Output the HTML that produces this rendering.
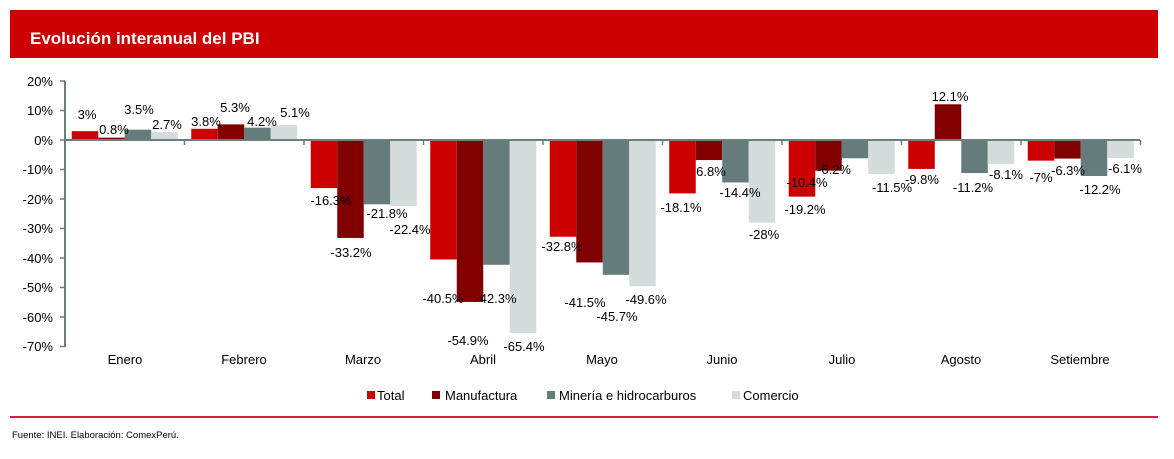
<!DOCTYPE html>
<html><head><meta charset="utf-8"><style>
body{margin:0;background:#fff;width:1174px;height:454px;overflow:hidden;font-family:"Liberation Sans",Arial,sans-serif}
svg text{font-family:"Liberation Sans",Arial,sans-serif}
</style></head><body>
<svg id="s" width="1174" height="454" xmlns="http://www.w3.org/2000/svg">
<rect x="10" y="10" width="1148" height="48" fill="#cc0000"/>
<text x="30" y="44" fill="#fff" font-size="17" font-weight="bold">Evolución interanual del PBI</text>
<g id="bars"></g>
<g stroke="#6b7f7f" stroke-width="2" fill="none">
<line x1="65" y1="81" x2="65" y2="347"/>
<line x1="65" y1="140" x2="1140" y2="140"/>
</g>
<g id="ticks" stroke="#6b7f7f" stroke-width="1.5"></g>
<g font-size="13" text-anchor="end" fill="#000">
<text x="53" y="86">20%</text><text x="53" y="115">10%</text><text x="53" y="145">0%</text>
<text x="53" y="174">-10%</text><text x="53" y="204">-20%</text><text x="53" y="233">-30%</text>
<text x="53" y="263">-40%</text><text x="53" y="292">-50%</text><text x="53" y="322">-60%</text><text x="53" y="351">-70%</text>
</g>
<g font-size="13" text-anchor="middle" fill="#000">
<text x="125" y="364">Enero</text><text x="244" y="364">Febrero</text><text x="363" y="364">Marzo</text>
<text x="483" y="364">Abril</text><text x="602" y="364">Mayo</text><text x="722" y="364">Junio</text>
<text x="842" y="364">Julio</text><text x="961" y="364">Agosto</text><text x="1080" y="364">Setiembre</text>
</g>
<g font-size="13" text-anchor="middle" fill="#000">
<text x="87" y="119">3%</text><text x="114" y="134">0.8%</text><text x="139" y="114">3.5%</text><text x="167" y="129">2.7%</text>
<text x="206" y="126">3.8%</text><text x="235" y="112">5.3%</text><text x="262" y="126">4.2%</text><text x="295" y="117">5.1%</text>
<text x="331" y="205">-16.3%</text><text x="351" y="257">-33.2%</text><text x="387" y="218">-21.8%</text><text x="410" y="234">-22.4%</text>
<text x="443" y="303">-40.5%</text><text x="468" y="345">-54.9%</text><text x="496" y="303">-42.3%</text><text x="524" y="351">-65.4%</text>
<text x="562" y="251">-32.8%</text><text x="585" y="307">-41.5%</text><text x="617" y="321">-45.7%</text><text x="646" y="304">-49.6%</text>
<text x="681" y="212">-18.1%</text><text x="711" y="176">6.8%</text><text x="740" y="197">-14.4%</text><text x="764" y="239">-28%</text>
<text x="805" y="214">-19.2%</text><text x="807" y="187">-10.4%</text><text x="834" y="174">-6.2%</text><text x="892" y="192">-11.5%</text>
<text x="922" y="184">-9.8%</text><text x="950" y="101">12.1%</text><text x="973" y="192">-11.2%</text><text x="1006" y="179">-8.1%</text>
<text x="1041" y="182">-7%</text><text x="1068" y="175">-6.3%</text><text x="1100" y="194">-12.2%</text><text x="1125" y="173">-6.1%</text>
</g>
<g font-size="13" fill="#000">
<rect x="367" y="391" width="8" height="8" fill="#cc0000"/><text x="377" y="400">Total</text>
<rect x="432" y="391" width="8" height="8" fill="#800000"/><text x="445" y="400">Manufactura</text>
<rect x="547" y="391" width="8" height="8" fill="#667b7b"/><text x="559" y="400">Minería e hidrocarburos</text>
<rect x="732" y="391" width="8" height="8" fill="#d5dcdc"/><text x="743" y="400">Comercio</text>
</g>
<rect x="10" y="416" width="1148" height="2" fill="#d6203d"/>
<text x="12" y="438" font-size="9.5" fill="#000">Fuente: INEI. Elaboración: ComexPerú.</text>
</svg>
<script>
var d=[[3,0.8,3.5,2.7],[3.8,5.3,4.2,5.1],[-16.3,-33.2,-21.8,-22.4],[-40.5,-54.9,-42.3,-65.4],[-32.8,-41.5,-45.7,-49.6],[-18.1,-6.8,-14.4,-28],[-19.2,-10.4,-6.2,-11.5],[-9.8,12.1,-11.2,-8.1],[-7,-6.3,-12.2,-6.1]];
var c=["#cc0000","#800000","#667b7b","#d5dcdc"],ns="http://www.w3.org/2000/svg",g=document.getElementById("bars"),t=document.getElementById("ticks");
for(var i=0;i<9;i++){for(var j=0;j<4;j++){var v=d[i][j],h=Math.abs(v)*2.95,r=document.createElementNS(ns,"rect");
r.setAttribute("x",71.75+119.5*i+26.5*j);r.setAttribute("width",26.5);r.setAttribute("y",v>0?140-h:140);r.setAttribute("height",h);r.setAttribute("fill",c[j]);g.appendChild(r);}
var l=document.createElementNS(ns,"line");l.setAttribute("x1",65+119.5*(i+1));l.setAttribute("x2",65+119.5*(i+1));l.setAttribute("y1",140);l.setAttribute("y2",145);t.appendChild(l);}
for(var k=0;k<10;k++){var l=document.createElementNS(ns,"line");l.setAttribute("x1",60);l.setAttribute("x2",65);l.setAttribute("y1",81+29.5*k);l.setAttribute("y2",81+29.5*k);t.appendChild(l);}
</script>
</body></html>
